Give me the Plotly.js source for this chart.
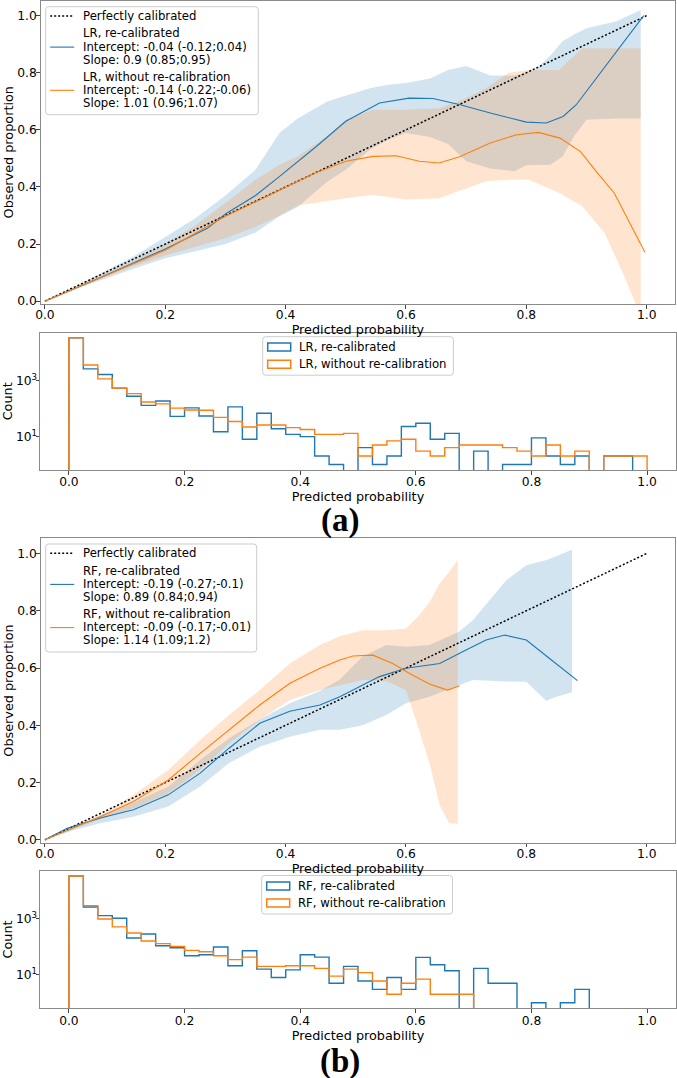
<!DOCTYPE html>
<html><head><meta charset="utf-8">
<script src="https://cdn.plot.ly/plotly-3.0.1.min.js"></script>
<style>html,body{margin:0;padding:0;background:#fff}#chart{width:677px;height:1078px}</style>
</head><body><div id="chart"></div>
<script>
// ================= Panel (a): LR calibration =================
const lrRecalBandX     = [0, 0.05, 0.1, 0.15, 0.2, 0.25, 0.3, 0.35, 0.39, 0.42, 0.47, 0.5, 0.54, 0.57, 0.6, 0.64, 0.67, 0.7, 0.74, 0.78, 0.8, 0.82, 0.84, 0.86, 0.88, 0.9, 0.95, 0.99];
const lrRecalBandUpper = [0, 0.05, 0.105, 0.16, 0.225, 0.29, 0.37, 0.46, 0.59, 0.64, 0.70, 0.72, 0.746, 0.758, 0.764, 0.78, 0.81, 0.824, 0.79, 0.79, 0.80, 0.82, 0.86, 0.91, 0.935, 0.956, 0.98, 1.02];
const lrRecalBandLower = [0, 0.042, 0.078, 0.115, 0.15, 0.175, 0.2, 0.24, 0.297, 0.33, 0.42, 0.46, 0.53, 0.565, 0.589, 0.575, 0.55, 0.49, 0.465, 0.455, 0.476, 0.478, 0.478, 0.507, 0.58, 0.635, 0.64, 0.64];

const lrRawBandX     = [0, 0.05, 0.1, 0.15, 0.2, 0.25, 0.3, 0.35, 0.39, 0.42, 0.47, 0.5, 0.545, 0.6, 0.655, 0.694, 0.733, 0.771, 0.804, 0.854, 0.893, 0.93, 0.96, 0.99];
const lrRawBandUpper = [0, 0.048, 0.095, 0.145, 0.2, 0.265, 0.344, 0.425, 0.478, 0.507, 0.58, 0.635, 0.67, 0.67, 0.676, 0.705, 0.746, 0.80, 0.81, 0.81, 0.886, 0.886, 0.886, 0.886];
const lrRawBandLower = [0, 0.042, 0.085, 0.125, 0.16, 0.19, 0.22, 0.26, 0.30, 0.335, 0.35, 0.36, 0.373, 0.356, 0.36, 0.39, 0.42, 0.425, 0.425, 0.38, 0.332, 0.239, 0.10, -0.05];

const lrRecalX = [0, 0.1, 0.2, 0.27, 0.3, 0.35, 0.39, 0.45, 0.5, 0.556, 0.605, 0.645, 0.69, 0.74, 0.8, 0.833, 0.861, 0.883, 0.995];
const lrRecalY = [0, 0.09, 0.183, 0.255, 0.305, 0.37, 0.437, 0.54, 0.63, 0.694, 0.711, 0.71, 0.688, 0.659, 0.627, 0.624, 0.647, 0.688, 1.0];
const lrRawX   = [0, 0.1, 0.2, 0.3, 0.39, 0.45, 0.5, 0.545, 0.584, 0.622, 0.655, 0.689, 0.74, 0.784, 0.82, 0.856, 0.89, 0.918, 0.946, 0.974, 0.997];
const lrRawY   = [0, 0.09, 0.178, 0.297, 0.39, 0.45, 0.49, 0.507, 0.509, 0.49, 0.484, 0.506, 0.554, 0.583, 0.591, 0.571, 0.524, 0.449, 0.379, 0.262, 0.171];

const diagX = [0, 1];
const diagY = [0, 1];

// ================= Histogram bins (shared) =================
const binEdges = [0, 0.025, 0.05, 0.075, 0.1, 0.125, 0.15, 0.175, 0.2, 0.225, 0.25, 0.275, 0.3, 0.325, 0.35, 0.375, 0.4, 0.425, 0.45, 0.475, 0.5,
                  0.525, 0.55, 0.575, 0.6, 0.625, 0.65, 0.675, 0.7, 0.725, 0.75, 0.775, 0.8, 0.825, 0.85, 0.875, 0.9, 0.925, 0.95, 0.975, 1.0];

const lrRecalCounts = [35000, 2700, 1700, 550, 280, 132, 190, 53, 107, 55, 15, 117, 8, 69, 19, 12, 10, 2, 1, 0,
                       4, 1, 2, 23, 30, 8, 13, 0, 3, 0, 1, 1, 9, 2, 1, 2, 0, 2, 2, 0];
const lrRawCounts   = [35000, 3700, 1180, 550, 350, 175, 150, 105, 90, 88, 49, 35, 22, 26, 26, 21, 18, 12, 12, 13,
                       2, 5, 7, 8, 3, 2, 4, 5, 5, 5, 4, 3, 2, 5, 2, 3, 0, 2, 2, 2];

// ================= Panel (b): RF calibration =================
const rfRecalBandX     = [0, 0.05, 0.092, 0.147, 0.205, 0.258, 0.306, 0.357, 0.407, 0.457, 0.49, 0.528, 0.567, 0.6, 0.639, 0.688, 0.711, 0.744, 0.767, 0.8, 0.833, 0.85, 0.876];
const rfRecalBandUpper = [0, 0.05, 0.085, 0.13, 0.186, 0.279, 0.355, 0.42, 0.477, 0.52, 0.56, 0.64, 0.68, 0.674, 0.68, 0.727, 0.767, 0.849, 0.907, 0.959, 0.977, 0.99, 1.014];
const rfRecalBandLower = [0, 0.035, 0.058, 0.081, 0.116, 0.186, 0.268, 0.325, 0.36, 0.384, 0.384, 0.40, 0.436, 0.477, 0.50, 0.54, 0.558, 0.556, 0.553, 0.552, 0.486, 0.50, 0.515];

const rfRawBandX     = [0, 0.05, 0.092, 0.147, 0.205, 0.258, 0.306, 0.357, 0.407, 0.457, 0.49, 0.528, 0.567, 0.6, 0.62, 0.639, 0.656, 0.672, 0.686];
const rfRawBandUpper = [0, 0.048, 0.087, 0.157, 0.244, 0.349, 0.436, 0.523, 0.616, 0.68, 0.711, 0.732, 0.732, 0.738, 0.78, 0.83, 0.895, 0.936, 0.977];
const rfRawBandLower = [0, 0.04, 0.072, 0.11, 0.163, 0.244, 0.337, 0.419, 0.488, 0.523, 0.54, 0.558, 0.555, 0.523, 0.395, 0.268, 0.12, 0.058, 0.056];

const rfRecalX = [0, 0.037, 0.092, 0.147, 0.205, 0.258, 0.306, 0.357, 0.407, 0.457, 0.49, 0.556, 0.6, 0.656, 0.694, 0.733, 0.764, 0.8, 0.838, 0.885];
const rfRecalY = [0, 0.04, 0.076, 0.105, 0.157, 0.233, 0.32, 0.407, 0.449, 0.471, 0.5, 0.57, 0.599, 0.616, 0.657, 0.698, 0.715, 0.698, 0.634, 0.556];
const rfRawX   = [0, 0.092, 0.147, 0.205, 0.258, 0.306, 0.357, 0.407, 0.457, 0.49, 0.512, 0.545, 0.578, 0.606, 0.639, 0.669, 0.689];
const rfRawY   = [0, 0.081, 0.134, 0.209, 0.302, 0.384, 0.471, 0.547, 0.599, 0.628, 0.642, 0.645, 0.616, 0.581, 0.544, 0.523, 0.538];

const rfRecalCounts = [34500, 2700, 1320, 1060, 209, 290, 110, 93, 48, 52, 99, 21, 73, 16, 8, 15, 52, 43, 5, 20,
                       6, 3, 8, 3, 42, 23, 14, 0, 17, 5, 5, 0, 1, 0, 1, 3, 0, 0, 0, 0];
const rfRawCounts   = [34500, 3000, 1000, 520, 315, 163, 131, 104, 75, 67, 48, 35, 43, 20, 20, 21, 21, 17, 9, 16,
                       12, 6, 2, 5, 7, 2, 2, 2, 0, 0, 0, 0, 0, 0, 0, 0, 0, 0, 0, 0];

// ================= Labels =================
const tickVals01 = [0, 0.2, 0.4, 0.6, 0.8, 1.0];
const tickText01 = ['0.0', '0.2', '0.4', '0.6', '0.8', '1.0'];
const logTickVals = [10, 1000];
const logTickText = ['10<sup>1</sup>', '10<sup>3</sup>'];
const legendA = {
  perfect: ['Perfectly calibrated'],
  recal: ['LR, re-calibrated', 'Intercept: -0.04 (-0.12;0.04)', 'Slope: 0.9 (0.85;0.95)'],
  raw: ['LR, without re-calibration', 'Intercept: -0.14 (-0.22;-0.06)', 'Slope: 1.01 (0.96;1.07)'],
  histRecal: 'LR, re-calibrated',
  histRaw: 'LR, without re-calibration'
};
const legendB = {
  perfect: ['Perfectly calibrated'],
  recal: ['RF, re-calibrated', 'Intercept: -0.19 (-0.27;-0.1)', 'Slope: 0.89 (0.84;0.94)'],
  raw: ['RF, without re-calibration', 'Intercept: -0.09 (-0.17;-0.01)', 'Slope: 1.14 (1.09;1.2)'],
  histRecal: 'RF, re-calibrated',
  histRaw: 'RF, without re-calibration'
};

// ================= Build =================
const BLUE = '#1f77b4', ORANGE = '#ff7f0e';
const BLUE_FILL = 'rgba(31,119,180,0.2)', ORANGE_FILL = 'rgba(255,127,14,0.2)';
const W = 677, H = 1078;
const FLOOR = 0.1;
const FONT = 'DejaVu Sans, Arial, sans-serif';
const DOT = '2px,2px';

function band(x, up, lo, color, xa, ya) {
  return {x: x.concat(x.slice().reverse()), y: up.concat(lo.slice().reverse()),
    type: 'scatter', mode: 'lines', fill: 'toself', fillcolor: color,
    line: {width: 0, color: 'rgba(0,0,0,0)'}, hoverinfo: 'skip', showlegend: false, xaxis: xa, yaxis: ya};
}
function line(x, y, color, name, xa, ya, dash, width) {
  return {x: x, y: y, type: 'scatter', mode: 'lines', name: name, showlegend: false,
    line: {color: color, width: width || 1.1, dash: dash || 'solid'}, xaxis: xa, yaxis: ya};
}
function step(edges, counts, color, name, xa, ya) {
  const xs = [edges[0]], ys = [FLOOR];
  for (let i = 0; i < counts.length; i++) { xs.push(edges[i]); ys.push(counts[i] > 0 ? counts[i] : FLOOR); }
  const last = counts[counts.length - 1];
  xs.push(edges[edges.length - 1]); ys.push(last > 0 ? last : FLOOR);
  xs.push(edges[edges.length - 1]); ys.push(FLOOR);
  return {x: xs, y: ys, type: 'scatter', mode: 'lines', name: name, line: {shape: 'hv', color: color, width: 1.4},
    showlegend: false, hoverinfo: 'skip', xaxis: xa, yaxis: ya};
}

const data = [
  band(lrRecalBandX, lrRecalBandUpper, lrRecalBandLower, BLUE_FILL, 'x', 'y'),
  band(lrRawBandX, lrRawBandUpper, lrRawBandLower, ORANGE_FILL, 'x', 'y'),
  line(diagX, diagY, '#000', legendA.perfect[0], 'x', 'y', DOT, 1.5),
  line(lrRecalX, lrRecalY, BLUE, legendA.recal[0], 'x', 'y'),
  line(lrRawX, lrRawY, ORANGE, legendA.raw[0], 'x', 'y'),

  step(binEdges, lrRecalCounts, BLUE, legendA.histRecal, 'x2', 'y2'),
  step(binEdges, lrRawCounts, ORANGE, legendA.histRaw, 'x2', 'y2'),

  band(rfRecalBandX, rfRecalBandUpper, rfRecalBandLower, BLUE_FILL, 'x3', 'y3'),
  band(rfRawBandX, rfRawBandUpper, rfRawBandLower, ORANGE_FILL, 'x3', 'y3'),
  line(diagX, diagY, '#000', legendB.perfect[0], 'x3', 'y3', DOT, 1.5),
  line(rfRecalX, rfRecalY, BLUE, legendB.recal[0], 'x3', 'y3'),
  line(rfRawX, rfRawY, ORANGE, legendB.raw[0], 'x3', 'y3'),

  step(binEdges, rfRecalCounts, BLUE, legendB.histRecal, 'x4', 'y4'),
  step(binEdges, rfRawCounts, ORANGE, legendB.histRaw, 'x4', 'y4')
];

const px = v => v / W;
const py = v => 1 - v / H;
const axBase = {showgrid: false, zeroline: false, showline: true, mirror: true, linecolor: '#8a8a8a', linewidth: 1,
  ticks: 'outside', ticklen: 3.5, tickwidth: 1, tickcolor: '#444', tickfont: {size: 12.3, color: '#000'}, fixedrange: true};
const titleFont = {size: 12.8, color: '#000'};

function calX(anchor) {
  return Object.assign({}, axBase, {anchor: anchor, domain: [px(40.7), px(675)], range: [-0.007, 1.047],
    tickvals: tickVals01, ticktext: tickText01, ticklabelstandoff: -4,
    title: {text: 'Predicted probability', font: titleFont, standoff: 0}});
}
function calY(anchor, top, bottom) {
  return Object.assign({}, axBase, {anchor: anchor, domain: [py(bottom), py(top)], range: [-0.01, 1.053],
    tickvals: tickVals01, ticktext: tickText01, ticklabelstandoff: -3,
    title: {text: 'Observed proportion', font: titleFont, standoff: 0}});
}
function histX(anchor) {
  return Object.assign({}, axBase, {anchor: anchor, domain: [px(40), px(676)], range: [-0.05, 1.05],
    tickvals: tickVals01, ticktext: tickText01, ticklabelstandoff: -3,
    title: {text: 'Predicted probability', font: titleFont, standoff: 0}});
}
function histY(anchor, top, bottom) {
  return Object.assign({}, axBase, {anchor: anchor, type: 'log', domain: [py(bottom), py(top)], range: [-0.2, 4.73],
    tickvals: logTickVals, ticktext: logTickText, ticklabelstandoff: -4,
    title: {text: 'Count', font: titleFont, standoff: 0}});
}

// ---------- legends drawn as shapes + text (pixel layout of the reference) ----------
const shapes = [], annotations = [];
const LEG_FONT = {family: FONT, size: 11.7, color: '#000'};
function roundBox(l, t, w, h, r) {
  const R = l + w, B = t + h;
  const P = (x, y) => px(x) + ',' + py(y);
  const path = 'M' + P(l + r, t) + ' L' + P(R - r, t) + ' Q' + P(R, t) + ' ' + P(R, t + r) +
    ' L' + P(R, B - r) + ' Q' + P(R, B) + ' ' + P(R - r, B) + ' L' + P(l + r, B) + ' Q' + P(l, B) + ' ' + P(l, B - r) +
    ' L' + P(l, t + r) + ' Q' + P(l, t) + ' ' + P(l + r, t) + ' Z';
  shapes.push({type: 'path', xref: 'paper', yref: 'paper', path: path, layer: 'above',
    fillcolor: 'rgba(255,255,255,0.8)', line: {color: '#cccccc', width: 1}});
}
function legText(txt, x, y) {
  annotations.push({text: txt, x: px(x), y: py(y), xref: 'paper', yref: 'paper', showarrow: false,
    xanchor: 'left', yanchor: 'middle', font: LEG_FONT, borderpad: 0, borderwidth: 0});
}
function legLine(x0, x1, y, color, dash, width) {
  shapes.push({type: 'line', xref: 'paper', yref: 'paper', x0: px(x0), x1: px(x1), y0: py(y), y1: py(y), layer: 'above',
    line: {color: color, width: width, dash: dash}});
}
function legRect(x0, x1, y, color) {
  shapes.push({type: 'rect', xref: 'paper', yref: 'paper', x0: px(x0), x1: px(x1), y0: py(y - 4), y1: py(y + 4), layer: 'above',
    fillcolor: 'rgba(0,0,0,0)', line: {color: color, width: 1.5}});
}
function calLegend(names, left, top, width) {
  roundBox(left, top, width, 108, 3);
  const off = [9.2, 26.7, 40, 53.2, 69.8, 83.3, 96.4];
  const lines = names.perfect.concat(names.recal, names.raw);
  lines.forEach((t, i) => legText(t, left + 37.5, top + off[i]));
  legLine(left + 4.5, left + 28.5, top + 9.2, '#000', DOT, 1.5);
  legLine(left + 4.5, left + 28.5, top + 40.4, BLUE, 'solid', 1.1);
  legLine(left + 4.5, left + 28.5, top + 83.6, ORANGE, 'solid', 1.1);
}
function histLegend(names, left, top, width) {
  roundBox(left, top, width, 38.5, 3);
  legText(names.histRecal, left + 36.5, top + 10.4);
  legText(names.histRaw, left + 36.5, top + 27.6);
  legRect(left + 5, left + 28, top + 10.4, BLUE);
  legRect(left + 5, left + 28, top + 27.6, ORANGE);
}
calLegend(legendA, 45.7, 6.7, 212.6);
histLegend(legendA, 262.7, 336.7, 190.7);
calLegend(legendB, 45.7, 544, 211);
histLegend(legendB, 261.7, 875.5, 190.8);

annotations.push(
  {text: '<b>(a)</b>', x: px(340), y: py(520), xref: 'paper', yref: 'paper', showarrow: false,
   xanchor: 'center', yanchor: 'middle', font: {family: 'Liberation Serif, Times New Roman, serif', size: 33, color: '#000'}},
  {text: '<b>(b)</b>', x: px(340), y: py(1061), xref: 'paper', yref: 'paper', showarrow: false,
   xanchor: 'center', yanchor: 'middle', font: {family: 'Liberation Serif, Times New Roman, serif', size: 33, color: '#000'}}
);

const layout = {
  width: W, height: H, margin: {l: 0, r: 0, t: 0, b: 0},
  paper_bgcolor: '#fff', plot_bgcolor: '#fff',
  font: {family: FONT, size: 12.3, color: '#000'},
  showlegend: false,
  xaxis: calX('y'), yaxis: calY('x', 0.5, 304),
  xaxis2: histX('y2'), yaxis2: histY('x2', 332.7, 470),
  xaxis3: calX('y3'), yaxis3: calY('x3', 538.3, 842.7),
  xaxis4: histX('y4'), yaxis4: histY('x4', 870.7, 1008.3),
  shapes: shapes,
  annotations: annotations
};

Plotly.newPlot('chart', data, layout, {displayModeBar: false, staticPlot: true});
</script>
</body></html>
